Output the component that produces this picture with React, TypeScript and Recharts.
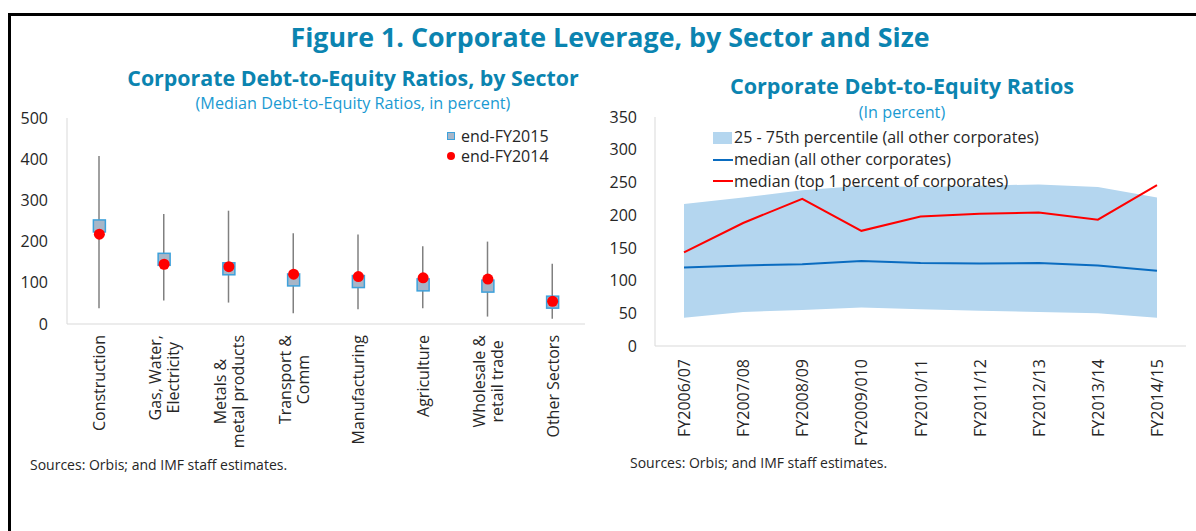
import React from "react";
import {
  ComposedChart,
  Bar,
  Line,
  Area,
  XAxis,
  YAxis,
} from "recharts";

// left panel: median debt-to-equity by sector
const sectors = [
  "Construction",
  "Gas, Water,\nElectricity",
  "Metals &\nmetal products",
  "Transport &\nComm",
  "Manufacturing",
  "Agriculture",
  "Wholesale &\nretail trade",
  "Other Sectors",
];
const sectorLow = [38, 57, 52, 26, 36, 38, 18, 13];
const sectorHigh = [408, 267, 275, 220, 217, 189, 200, 146];
const endFY2015 = [238, 157, 134, 107, 103, 95, 92, 53];
const endFY2014 = [218, 145, 139, 121, 115, 112, 109, 55];
const sectorTicks = [0, 100, 200, 300, 400, 500];

// right panel: debt-to-equity over time
const years = [
  "FY2006/07",
  "FY2007/08",
  "FY2008/09",
  "FY2009/010",
  "FY2010/11",
  "FY2011/12",
  "FY2012/13",
  "FY2013/14",
  "FY2014/15",
];
const pct25 = [43, 52, 55, 59, 56, 54, 52, 50, 43];
const pct75 = [217, 227, 238, 245, 243, 245, 247, 243, 227];
const medianOther = [120, 123, 125, 130, 127, 126, 127, 123, 115];
const medianTop = [143, 188, 225, 176, 198, 202, 204, 193, 246];
const yearTicks = [0, 50, 100, 150, 200, 250, 300, 350];

const FONT = '"Open Sans", "Noto Sans", sans-serif';
const TEAL = "#0B84B0";
const TEXT = "#262626";
const AXIS = "#D9D9D9";
const BAND = "#B4D6EF";
const BLUE = "#0A6CC0";
const RED = "#FF0000";

const sectorData = sectors.map((name, i) => ({
  name,
  range: [sectorLow[i], sectorHigh[i]],
  fy2015: endFY2015[i],
  fy2014: endFY2014[i],
}));

const yearData = years.map((name, i) => ({
  name,
  band: [pct25[i], pct75[i]],
  other: medianOther[i],
  top: medianTop[i],
}));

let measureCtx: CanvasRenderingContext2D | null = null;
function textWidth(s: string, size: number) {
  if (!measureCtx) measureCtx = document.createElement("canvas").getContext("2d");
  if (!measureCtx) return s.length * size * 0.55;
  measureCtx.font = `${size}px ${FONT}`;
  return measureCtx.measureText(s).width;
}

// rotated, possibly two-line category label hanging below the axis
const RotatedTick = (props: any) => {
  const { x, y, payload, gap = 9, size = 16 } = props;
  const lines = String(payload.value).split("\n");
  const block = Math.max(...lines.map((l) => textWidth(l, size)));
  return (
    <g transform={`translate(${x},${y + gap}) rotate(-90)`}>
      {lines.map((l, i) => (
        <text
          key={i}
          x={-block / 2}
          y={(i - (lines.length - 1) / 2) * 18}
          textAnchor="middle"
          dominantBaseline="central"
          fontFamily={FONT}
          fontSize={size}
          fill={TEXT}
        >
          {l}
        </text>
      ))}
    </g>
  );
};

const Whisker = (props: any) => {
  const { x, y, width, height } = props;
  const cx = x + width / 2;
  const top = Math.min(y, y + height);
  return (
    <line x1={cx} x2={cx} y1={top} y2={top + Math.abs(height)} stroke="#808080" strokeWidth={1.5} />
  );
};

const SquareDot = (props: any) => {
  const { cx, cy, index } = props;
  if (cx == null || cy == null) return null;
  return (
    <rect key={`sq-${index}`} x={cx - 6} y={cy - 6} width={12} height={12} fill="#A7B6C8" stroke="#3DA1DB" strokeWidth={1.5} />
  );
};

const RedDot = (props: any) => {
  const { cx, cy, index } = props;
  if (cx == null || cy == null) return null;
  return <circle key={`c-${index}`} cx={cx} cy={cy} r={5.5} fill={RED} />;
};

const tickStyle = { fontFamily: FONT, fontSize: 16, fill: TEXT };

function Heading({ text, cx, cy, size, bold, color }: any) {
  return (
    <div
      style={{
        position: "absolute",
        left: cx - 400,
        top: cy - size * 0.7,
        width: 800,
        lineHeight: `${size * 1.4}px`,
        textAlign: "center",
        fontSize: size,
        fontWeight: bold ? 700 : 400,
        color,
        whiteSpace: "nowrap",
      }}
    >
      {text}
    </div>
  );
}

function Label({ text, x, cy, size = 16 }: any) {
  return (
    <div
      style={{
        position: "absolute",
        left: x,
        top: cy - 11,
        lineHeight: "22px",
        fontSize: size,
        color: TEXT,
        whiteSpace: "nowrap",
      }}
    >
      {text}
    </div>
  );
}

export default function App() {
  return (
    <div
      style={{
        position: "absolute",
        left: 0,
        top: 0,
        width: 1196,
        height: 531,
        background: "#fff",
        overflow: "hidden",
        fontFamily: FONT,
      }}
    >
      <div
        style={{
          position: "absolute",
          left: 8,
          top: 13,
          right: -10,
          bottom: -10,
          borderTop: "3px solid #000",
          borderLeft: "3px solid #000",
        }}
      />

      <Heading text="Figure 1. Corporate Leverage, by Sector and Size" cx={610} cy={37} size={26.8} bold color={TEAL} />
      <Heading text="Corporate Debt-to-Equity Ratios, by Sector" cx={353} cy={78} size={21.4} bold color={TEAL} />
      <Heading text="(Median Debt-to-Equity Ratios, in percent)" cx={353} cy={103} size={16.2} color="#1A9AD2" />
      <Heading text="Corporate Debt-to-Equity Ratios" cx={902} cy={86} size={21.6} bold color={TEAL} />
      <Heading text="(In percent)" cx={902} cy={112} size={16.2} color="#1A9AD2" />

      <div style={{ position: "absolute", left: 0, top: 0 }}>
        <ComposedChart width={600} height={470} data={sectorData} margin={{ top: 118, right: 15, left: 0, bottom: 26 }}>
          <XAxis
            dataKey="name"
            interval={0}
            height={120}
            tickLine={false}
            tickSize={0}
            axisLine={{ stroke: AXIS }}
            tick={<RotatedTick gap={9} size={16} />}
          />
          <YAxis
            width={67}
            domain={[0, 500]}
            ticks={sectorTicks}
            tickLine={false}
            tickSize={0}
            tickMargin={19}
            axisLine={{ stroke: AXIS }}
            tick={tickStyle}
          />
          <Bar dataKey="range" barSize={2} shape={<Whisker />} isAnimationActive={false} />
          <Line dataKey="fy2015" stroke="none" dot={SquareDot} activeDot={false} isAnimationActive={false} />
          <Line dataKey="fy2014" stroke="none" dot={RedDot} activeDot={false} isAnimationActive={false} />
        </ComposedChart>
      </div>

      <div style={{ position: "absolute", left: 600, top: 0 }}>
        <ComposedChart width={596} height={470} data={yearData} margin={{ top: 117, right: 10, left: 0, bottom: 14 }}>
          <XAxis
            dataKey="name"
            interval={0}
            height={110}
            padding={{ left: 29, right: 29 }}
            tickLine={false}
            tickSize={0}
            axisLine={{ stroke: AXIS }}
            tick={<RotatedTick gap={11} size={16} />}
          />
          <YAxis
            width={55}
            domain={[0, 350]}
            ticks={yearTicks}
            tickLine={false}
            tickSize={0}
            tickMargin={18}
            axisLine={{ stroke: AXIS }}
            tick={tickStyle}
          />
          <Area dataKey="band" stroke="none" fill={BAND} fillOpacity={1} isAnimationActive={false} />
          <Line dataKey="other" stroke={BLUE} strokeWidth={2} dot={false} activeDot={false} isAnimationActive={false} />
          <Line dataKey="top" stroke={RED} strokeWidth={2} dot={false} activeDot={false} isAnimationActive={false} />
        </ComposedChart>
      </div>

      {/* legend, left panel */}
      <div
        style={{
          position: "absolute",
          left: 447,
          top: 132,
          width: 6,
          height: 6,
          background: "#A7B6C8",
          border: "1.5px solid #3DA1DB",
        }}
      />
      <Label text="end-FY2015" x={461} cy={136} />
      <div style={{ position: "absolute", left: 447, top: 152, width: 8, height: 8, borderRadius: "50%", background: RED }} />
      <Label text="end-FY2014" x={461} cy={156} />

      {/* legend, right panel */}
      <div style={{ position: "absolute", left: 713, top: 132, width: 19, height: 12, background: BAND }} />
      <Label text="25 - 75th percentile (all other corporates)" x={734} cy={137} />
      <div style={{ position: "absolute", left: 713, top: 159, width: 20, height: 2, background: BLUE }} />
      <Label text="median (all other corporates)" x={734} cy={159} />
      <div style={{ position: "absolute", left: 713, top: 180, width: 20, height: 2, background: RED }} />
      <Label text="median (top 1 percent of corporates)" x={734} cy={181} />

      <Label text="Sources: Orbis; and IMF staff estimates." x={30} cy={465} size={14} />
      <Label text="Sources: Orbis; and IMF staff estimates." x={630} cy={463} size={14} />
    </div>
  );
}
